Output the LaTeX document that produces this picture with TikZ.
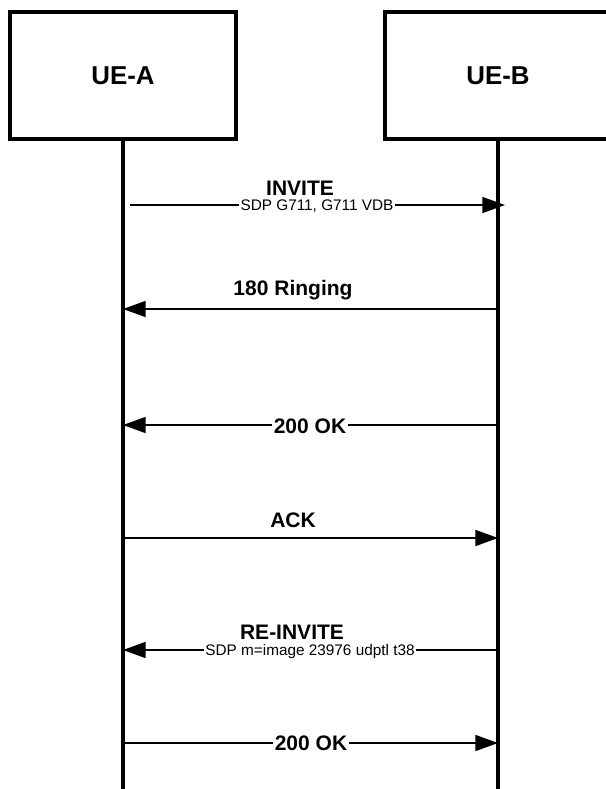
\documentclass[tikz,border=0pt]{standalone}
\usepackage{fontspec}
\setmainfont{Liberation Sans}
\usepackage{tikz}
\usetikzlibrary{arrows.meta}
\tikzset{
    entity/.style={draw, line width=2.4pt, minimum width=169.5pt, minimum height=95.25pt, font=\fontsize{19.4}{22}\selectfont\bfseries},
    lifeline/.style={line width=2.4pt},
    msg/.style={line width=1.2pt, -{Triangle[length=17pt,width=12pt]}},
    msgname/.style={anchor=base, font=\fontsize{15.75}{18}\selectfont\bfseries},
    onwire/.style={fill=white, inner xsep=1.5pt, inner ysep=0.5pt, font=\fontsize{15.75}{18}\selectfont\bfseries},
    sdp/.style={fill=white, anchor=base, inner xsep=1pt, inner ysep=0.5pt, font=\fontsize{11.5}{13}\selectfont}
}

\begin{document}
\begin{tikzpicture}[x=0.75pt, y=-0.75pt]
\clip (0,0) rectangle (606,789);
\node[entity] (ueA) at (123,75.5) {UE-A};
\node[entity] (ueB) at (498,75.5) {UE-B};
\coordinate (endA) at (123,789);
\coordinate (endB) at (498,789);
\draw[lifeline] (ueA.south) -- (endA);
\draw[lifeline] (ueB.south) -- (endB);
\foreach \i/\y in {1/205, 2/309, 3/425, 4/538, 5/650, 6/743}{
    \coordinate (a\i) at (123,\y);
    \coordinate (b\i) at (498,\y);
}
\draw[msg] ([xshift=5.25pt]a1) -- ([xshift=5.25pt]b1);
\draw[msg] (b2) -- (a2);
\draw[msg] (b3) -- (a3);
\draw[msg] (a4) -- (b4);
\draw[msg] (b5) -- (a5);
\draw[msg] (a6) -- (b6);
\foreach \x/\y/\n/\t in {300/195/invite/{INVITE}, 293/295/ringing/{180 Ringing}, 293/527/ack/{ACK}, 292/639/reinvite/{RE-INVITE}}{
    \node[msgname] (\n) at (\x,\y) {\t};
}
\node[sdp] (sdpA) at (317,210.5) {SDP G711, G711 VDB};
\node[sdp] (sdpB) at (310,655.5) {SDP m=image 23976 udptl t38};
\node[onwire] (okA) at (310,426) {200 OK};
\node[onwire] (okB) at (311,743.5) {200 OK};
\end{tikzpicture}
\end{document}
